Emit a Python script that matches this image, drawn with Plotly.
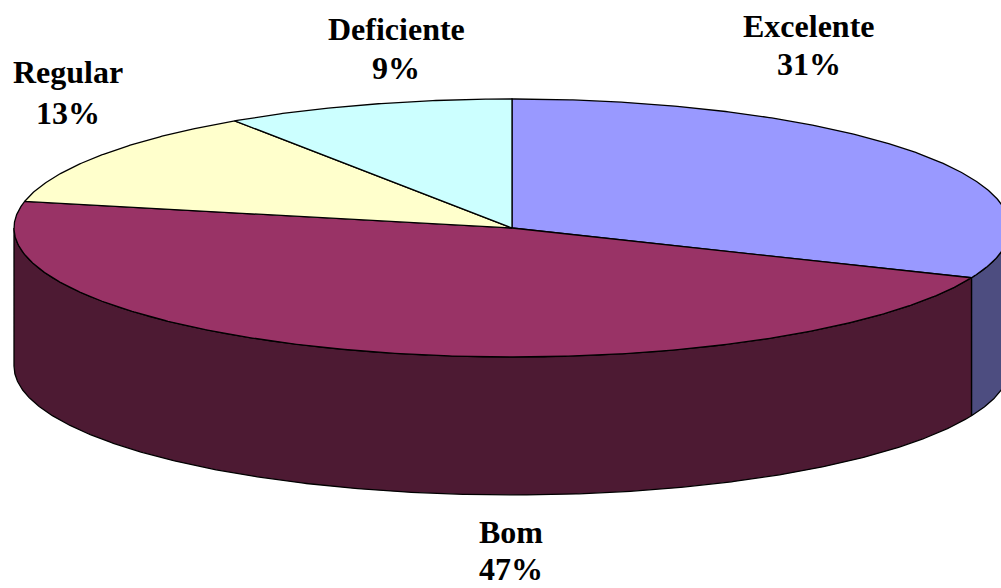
import numpy as np
import plotly.graph_objects as go

categories = ["Excelente", "Bom", "Regular", "Deficiente"]
percent_labels = ["31%", "47%", "13%", "9%"]
# slice sizes as drawn in the picture (the 3D projection skews them a little from the labels)
values = [31.3, 47.0, 12.3, 9.4]
top_colors = ["#9999FF", "#993366", "#FFFFCC", "#CCFFFF"]
side_colors = ["#4D4D80", "#4D1A33", "#808066", "#668080"]
label_x = [809, 511, 68, 396]
label_name_y = [26, 532, 72, 29]
label_pct_y = [64, 569, 113, 68]

CX, CY, RX, RY, DEPTH = 512, 228, 498, 129, 138


def arc(a0, a1, dy=0):
    t = np.radians(np.linspace(a0, a1, max(int(abs(a1 - a0) * 3), 2)))
    return CX + RX * np.sin(t), CY - RY * np.cos(t) + dy


fig = go.Figure()
edges = np.cumsum([0] + values) / sum(values) * 360
line = dict(color="black", width=1.3)

# side walls (visible for the front half of the ellipse)
for i in range(len(values)):
    a0, a1 = max(edges[i], 90), min(edges[i + 1], 270)
    if a0 >= a1:
        continue
    x1, y1 = arc(a0, a1)
    x2, y2 = arc(a1, a0, DEPTH)
    fig.add_trace(go.Scatter(
        x=np.r_[x1, x2, x1[0]], y=np.r_[y1, y2, y1[0]], mode="lines",
        fill="toself", fillcolor=side_colors[i], line=line, hoverinfo="skip"))

# top faces
for i in range(len(values)):
    x1, y1 = arc(edges[i], edges[i + 1])
    fig.add_trace(go.Scatter(
        x=np.r_[CX, x1, CX], y=np.r_[CY, y1, CY], mode="lines",
        fill="toself", fillcolor=top_colors[i], line=line,
        name=categories[i], hoverinfo="skip"))

font = dict(family="Liberation Serif", size=32, color="black")
for c, p, lx, ny, py in zip(categories, percent_labels, label_x, label_name_y, label_pct_y):
    fig.add_annotation(x=lx, y=ny, xref="x", yref="y", showarrow=False,
                       text=f"<b>{c}</b>", font=font)
    fig.add_annotation(x=lx, y=py, xref="x", yref="y", showarrow=False,
                       text=f"<b>{p}</b>", font=font)

fig.update_layout(
    width=1001, height=588, margin=dict(l=0, r=0, t=0, b=0),
    paper_bgcolor="white", plot_bgcolor="white", showlegend=False,
    xaxis=dict(range=[0, 1001], visible=False, fixedrange=True),
    yaxis=dict(range=[588, 0], visible=False, fixedrange=True),
)
fig.write_html("out.html", config={"displayModeBar": False},
               post_script="document.body.style.margin='0';document.body.style.overflow='hidden';")
